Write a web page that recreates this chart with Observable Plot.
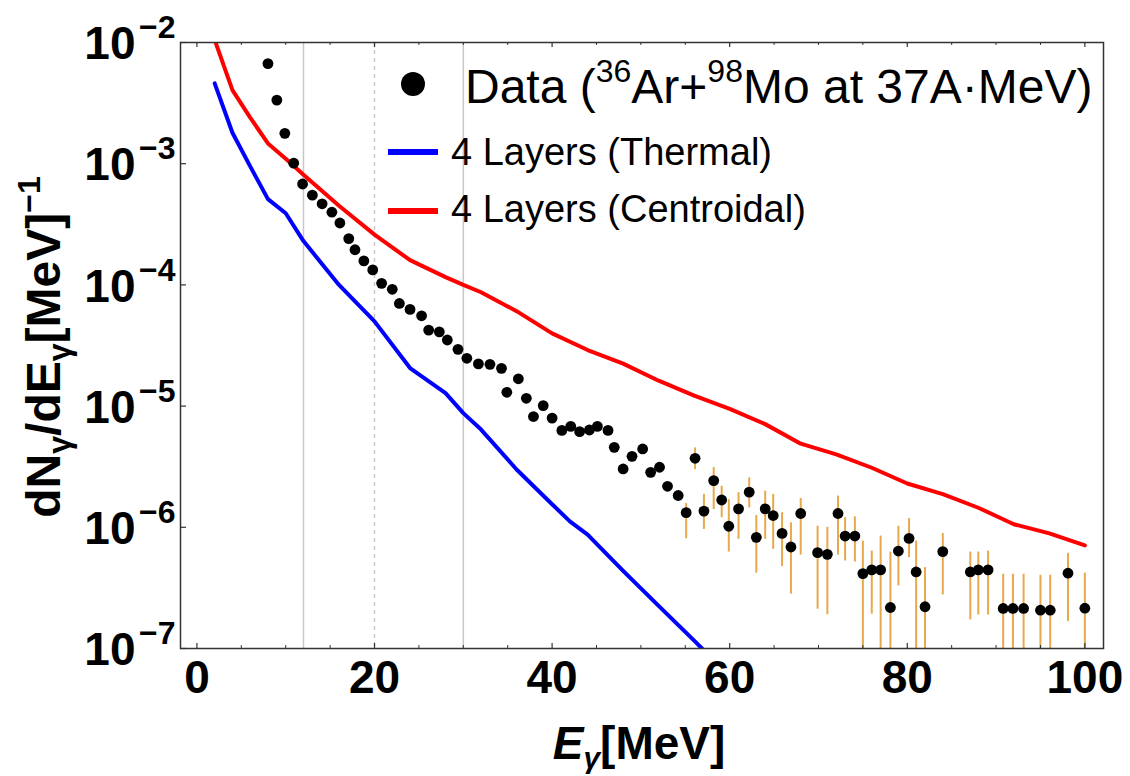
<!DOCTYPE html>
<html>
<head>
<meta charset="utf-8">
<script src="https://cdn.jsdelivr.net/npm/d3@7"></script>
<script src="https://cdn.jsdelivr.net/npm/@observablehq/plot@0.6"></script>
<style>
  html, body { margin: 0; padding: 0; background: #fff; }
  #chart svg { display: block; }
</style>
</head>
<body>
<div id="chart"></div>
<script>
// ---------- data ----------
const dataE = [8.0, 9.0, 9.9, 10.9, 11.9, 13.0, 14.1, 15.2, 16.1, 17.1, 17.8, 18.8, 19.8, 20.8, 22.0,
  22.8, 24.0, 25.3, 26.1, 27.3, 28.2, 29.4, 30.4, 31.7, 33.0, 34.3, 34.9, 36.2, 37.1, 37.9, 39.0,
  40.0, 41.1, 42.1, 43.1, 44.2, 45.1, 46.3, 47.0, 48.0, 49.0, 50.2, 51.1, 52.1, 53.0, 54.2,
  55.1, 56.1, 57.1, 58.2, 59.1, 59.9, 61.0, 62.2, 63.0, 64.0, 64.9, 65.9, 66.9, 68.0, 69.9, 71.0,
  72.2, 73.0, 74.1, 75.0, 76.0, 77.0, 78.1, 79.0, 80.2, 81.0, 82.0, 84.0, 87.1, 88.0, 89.1, 90.8,
  91.9, 93.1, 95.0, 96.1, 98.1, 100.0];
const dataV = [6.7e-3, 3.35e-3, 1.78e-3, 1.01e-3, 6.8e-4, 5.5e-4, 4.67e-4, 3.98e-4, 3.24e-4, 2.41e-4,
  1.95e-4, 1.58e-4, 1.33e-4, 1.03e-4, 9.2e-5,
  7.03e-5, 6.28e-5, 5.56e-5, 4.24e-5, 4.1e-5, 3.51e-5, 2.94e-5, 2.48e-5, 2.23e-5, 2.21e-5, 2.05e-5,
  1.30e-5, 1.68e-5, 1.16e-5, 8.2e-6, 1.01e-5,
  7.96e-6, 6.3e-6, 6.8e-6, 6.15e-6, 6.35e-6, 6.8e-6, 6.3e-6, 4.57e-6, 3.03e-6, 3.85e-6, 4.43e-6,
  2.84e-6, 3.13e-6, 2.18e-6, 1.83e-6,
  1.32e-6, 3.71e-6, 1.36e-6, 2.43e-6, 1.68e-6, 1.02e-6, 1.42e-6, 1.95e-6, 8.26e-7, 1.42e-6, 1.25e-6,
  8.9e-7, 6.88e-7, 1.30e-6, 6.18e-7, 5.98e-7,
  1.30e-6, 8.47e-7, 8.47e-7, 4.15e-7, 4.45e-7, 4.45e-7, 2.18e-7, 6.37e-7, 8.1e-7, 4.28e-7, 2.21e-7,
  6.30e-7, 4.28e-7, 4.45e-7, 4.45e-7, 2.14e-7,
  2.14e-7, 2.14e-7, 2.07e-7, 2.07e-7, 4.18e-7, 2.15e-7];

// error bars (visible for E >= 55 MeV); 5e-8 = bar runs below the plot range
const errE = [55.1, 56.1, 57.1, 58.2, 59.1, 59.9, 61.0, 62.2, 63.0, 64.0, 64.9, 65.9, 66.9, 68.0, 69.9,
  71.0, 72.2, 73.0, 74.1, 75.0, 76.0, 77.0, 78.1, 79.0, 80.2, 81.0, 82.0, 84.0, 87.1, 88.0, 89.1,
  90.8, 91.9, 93.1, 95.0, 96.1, 98.1, 100.0];
const errHi = [1.57e-6, 4.52e-6, 1.87e-6, 3.11e-6, 2.18e-6, 1.69e-6, 1.93e-6, 2.56e-6, 1.25e-6,
  1.99e-6, 1.87e-6, 1.32e-6, 1.09e-6, 1.73e-6, 1.02e-6, 1.0e-6, 1.81e-6, 1.20e-6, 1.22e-6, 7.7e-7,
  6.37e-7, 8.47e-7, 6.25e-7, 1.02e-6, 1.18e-6, 7.7e-7, 4.65e-7, 8.9e-7, 6.25e-7, 6.25e-7, 6.37e-7,
  4.10e-7, 4.10e-7, 4.10e-7, 4.02e-7, 4.02e-7, 6.1e-7, 4.18e-7];
const errLo = [8.05e-7, 2.99e-6, 9.6e-7, 1.40e-6, 1.20e-6, 6.25e-7, 7.96e-7, 1.45e-6, 4.18e-7,
  7.96e-7, 6.58e-7, 4.74e-7, 2.81e-7, 5.9e-7, 2.11e-7, 1.90e-7, 5.9e-7, 5.27e-7, 5.17e-7, 5e-8,
  1.92e-7, 5e-8, 5e-8, 3.28e-7, 5.62e-7, 5e-8, 5e-8, 2.77e-7, 1.72e-7, 1.89e-7, 1.89e-7,
  5e-8, 5e-8, 5e-8, 5e-8, 5e-8, 1.67e-7, 5e-8];

// 4 Layers (Thermal)
const thermalE = [2, 4, 6, 8, 10, 12, 16, 20, 24, 28, 30, 32, 36, 40, 42, 44, 48, 52, 56, 58];
const thermalV = [4.6e-3, 1.8e-3, 9.5e-4, 5.1e-4, 3.9e-4, 2.3e-4, 1.0e-4, 5.0e-5, 2.06e-5, 1.28e-5,
  8.75e-6, 6.4e-6, 3.0e-6, 1.55e-6, 1.12e-6, 8.7e-7, 4.37e-7, 2.25e-7, 1.16e-7, 8.3e-8];

// 4 Layers (Centroidal)
const centroidE = [2, 4, 6, 8, 10, 12, 16, 20, 24, 28, 30, 32, 36, 40, 44, 48, 52, 56, 60, 64, 68,
  72, 76, 80, 84, 88, 92, 96, 100];
const centroidV = [1.05e-2, 4.05e-3, 2.4e-3, 1.47e-3, 1.1e-3, 8.1e-4, 4.5e-4, 2.6e-4, 1.6e-4, 1.16e-4,
  1.0e-4, 8.7e-5, 6.07e-5, 3.98e-5, 2.9e-5, 2.24e-5, 1.62e-5, 1.22e-5, 9.5e-6, 7.1e-6, 4.9e-6,
  4.0e-6, 3.1e-6, 2.3e-6, 1.88e-6, 1.45e-6, 1.06e-6, 8.9e-7, 7.1e-7];

const seriesNames = ["Data", "4 Layers (Thermal)", "4 Layers (Centroidal)"];

// axis ticks / labels
const xTickValues = [0, 20, 40, 60, 80, 100];
const xMinorTicks = [5, 10, 15, 25, 30, 35, 45, 50, 55, 65, 70, 75, 85, 90, 95];
const yTickValues = [1e-2, 1e-3, 1e-4, 1e-5, 1e-6, 1e-7];
const yTickExponents = ["\u22122", "\u22123", "\u22124", "\u22125", "\u22126", "\u22127"];
const gridSolid = [12, 30];
const gridDashed = [20];

// ---------- build tables ----------
const points = dataE.map((e, i) => ({e, v: dataV[i]}));
const errs = errE.map((e, i) => ({e, lo: errLo[i], hi: errHi[i]}));
const thermal = thermalE.map((e, i) => ({e, v: thermalV[i]}));
const centroid = centroidE.map((e, i) => ({e, v: centroidV[i]}));

const W = 1130, H = 776, mL = 180, mT = 42, mR = 27, mB = 128;
const fw = W - mL - mR, fh = H - mT - mB;
const FONT = "'Liberation Sans', Arial, sans-serif";
const AX = "#333333";

const svg = Plot.plot({
  width: W, height: H,
  marginLeft: mL, marginTop: mT, marginRight: mR, marginBottom: mB,
  style: {fontFamily: FONT, background: "white", overflow: "visible"},
  x: {domain: [-1.85, 102.1], axis: null},
  y: {type: "log", domain: [1e-7, 1e-2], axis: null},
  marks: [
    Plot.ruleX(gridSolid, {x: d => d, stroke: "#c8c8c8", strokeWidth: 1.5}),
    Plot.ruleX(gridDashed, {x: d => d, stroke: "#c8c8c8", strokeWidth: 1.5, strokeDasharray: "4,4"}),
    Plot.line(centroid, {x: "e", y: "v", stroke: "#ff0000", strokeWidth: 4, strokeLinejoin: "round", clip: true}),
    Plot.line(thermal, {x: "e", y: "v", stroke: "#0000ff", strokeWidth: 4, strokeLinejoin: "round", clip: true}),
    Plot.ruleX(errs, {x: "e", y1: "lo", y2: "hi", stroke: "#e8a84c", strokeWidth: 2, clip: true}),
    Plot.dot(points, {x: "e", y: "v", r: 5.4, fill: "black", stroke: "none"}),
    Plot.frame({stroke: AX, strokeWidth: 1.5}),
    // inward ticks
    Plot.tickX(xTickValues, {x: d => d, insetTop: fh - 5, stroke: AX, strokeWidth: 1.2}),
    Plot.tickX(xMinorTicks, {x: d => d, insetTop: fh - 3, stroke: AX, strokeWidth: 1}),
    Plot.tickX(xTickValues, {x: d => d, insetBottom: fh - 5, stroke: AX, strokeWidth: 1.2}),
    Plot.tickX(xMinorTicks, {x: d => d, insetBottom: fh - 3, stroke: AX, strokeWidth: 1}),
    Plot.tickY(yTickValues, {y: d => d, insetRight: fw - 6, stroke: AX, strokeWidth: 1.2}),
    // x tick labels
    Plot.text(xTickValues, {x: d => d, text: d => String(d), frameAnchor: "bottom", lineAnchor: "top",
      dy: 12, fontSize: 46, fontWeight: "bold", fill: "black"}),
    // y tick labels: mantissa and exponent
    Plot.text(yTickValues, {y: d => d, text: () => "10", frameAnchor: "left", textAnchor: "end",
      lineAnchor: "middle", dx: -45, dy: 2, fontSize: 46, fontWeight: "bold", fill: "black"}),
    Plot.text(yTickValues, {y: d => d, text: (d, i) => yTickExponents[i], frameAnchor: "left",
      textAnchor: "end", lineAnchor: "middle", dx: -5, dy: -14.5, fontSize: 32, fontWeight: "bold", fill: "black"})
  ]
});
document.getElementById("chart").append(svg);

const s = d3.select(svg);

// x-axis title
const xt = s.append("text").attr("x", 639).attr("y", 759).attr("text-anchor", "middle")
  .attr("font-family", FONT).attr("font-size", 46).attr("font-weight", "bold").attr("fill", "black");
xt.append("tspan").attr("font-style", "italic").text("E");
xt.append("tspan").attr("font-style", "italic").attr("font-size", 30).attr("dy", 9).text("\u03b3");
xt.append("tspan").attr("dy", -9).text("[MeV]");

// y-axis title
const yt = s.append("text").attr("transform", "translate(60,347) rotate(-90)").attr("text-anchor", "middle")
  .attr("font-family", FONT).attr("font-size", 48).attr("font-weight", "bold").attr("fill", "black");
yt.append("tspan").text("dN");
yt.append("tspan").attr("font-size", 32).attr("dy", 10).text("\u03b3");
yt.append("tspan").attr("dy", -10).text("/dE");
yt.append("tspan").attr("font-size", 32).attr("dy", 10).text("\u03b3");
yt.append("tspan").attr("dy", -10).text("[MeV]");
yt.append("tspan").attr("font-size", 32).attr("dy", -20).text("\u22121");

// legend
const lg = s.append("g").attr("font-family", FONT).attr("fill", "black").attr("text-anchor", "start");
lg.append("circle").attr("cx", 413).attr("cy", 84).attr("r", 12).attr("fill", "black");
const l1 = lg.append("text").attr("x", 465).attr("y", 103).attr("font-size", 48).attr("text-anchor", "start");
l1.append("tspan").text(seriesNames[0] + " (");
l1.append("tspan").attr("font-size", 32).attr("dy", -21).text("36");
l1.append("tspan").attr("dy", 21).text("Ar+");
l1.append("tspan").attr("font-size", 32).attr("dy", -21).text("98");
l1.append("tspan").attr("dy", 21).text("Mo at 37A\u00b7MeV)");
lg.append("line").attr("x1", 388).attr("x2", 438).attr("y1", 152).attr("y2", 152)
  .attr("stroke", "#0000ff").attr("stroke-width", 6);
lg.append("text").attr("x", 451).attr("y", 165).attr("font-size", 38).attr("text-anchor", "start").text(seriesNames[1]);
lg.append("line").attr("x1", 388).attr("x2", 438).attr("y1", 211).attr("y2", 211)
  .attr("stroke", "#ff0000").attr("stroke-width", 6);
lg.append("text").attr("x", 451).attr("y", 222).attr("font-size", 38).attr("text-anchor", "start").text(seriesNames[2]);
</script>
</body>
</html>
